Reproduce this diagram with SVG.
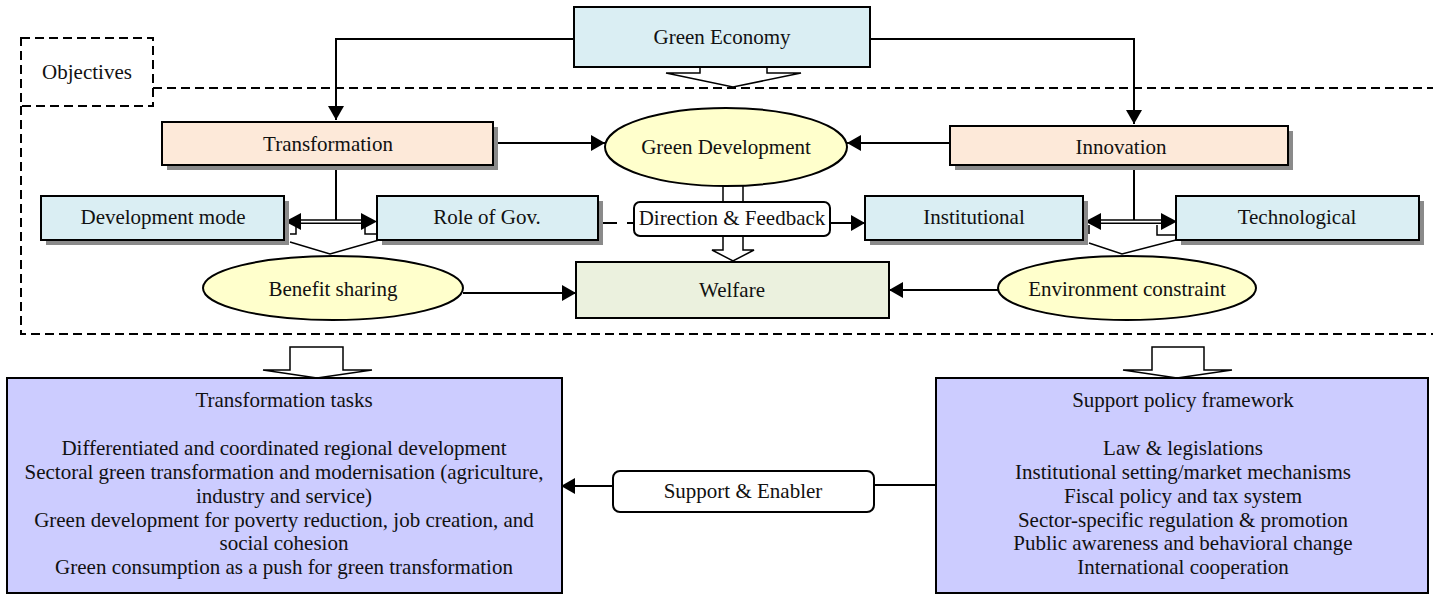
<svg xmlns="http://www.w3.org/2000/svg" width="1433" height="594" viewBox="0 0 1433 594">
<defs>
<style>
text{font-family:"Liberation Serif","Times New Roman",serif;font-size:21px;fill:#111;text-anchor:middle}
.box{stroke:#000;stroke-width:2}
.shadow{fill:#8a8a8a}
.blue{fill:#DAEEF3}
.peach{fill:#FDE9D9}
.ell{fill:#FFFFCC;stroke:#000;stroke-width:2}
.purple{fill:#CCCCFF}
.dash{fill:none;stroke:#000;stroke-width:2;stroke-dasharray:9,5}
.con{fill:none;stroke:#000;stroke-width:2}
.thin{fill:none;stroke:#000;stroke-width:1.5}
.blk{fill:#fff;stroke:#000;stroke-width:1.5}
</style>
<marker id="ah" markerUnits="userSpaceOnUse" markerWidth="16" markerHeight="16" refX="14" refY="8" orient="auto" viewBox="0 0 16 16">
<path d="M0,0 L14,8 L0,16 z" fill="#000"/>
</marker>
</defs>

<g id="frame">
<rect class="dash" x="21" y="38" width="132" height="68"/>
<text x="87" y="79">Objectives</text>
<path class="dash" d="M153,88 H1433"/>
<path class="dash" d="M21,106 V334 H1433"/>
</g>

<g id="connectors">
<path class="con" d="M574,39 H336 V120" marker-end="url(#ah)"/>
<path class="con" d="M870,39 H1134 V124" marker-end="url(#ah)"/>
<path class="con" d="M493,143 H605" marker-end="url(#ah)"/>
<path class="con" d="M950,143 H847" marker-end="url(#ah)"/>
<path class="con" d="M463,293 H576" marker-end="url(#ah)"/>
<path class="con" d="M998,290 H889" marker-end="url(#ah)"/>
<path class="con" d="M830,223 H865" marker-end="url(#ah)"/>
<path class="con" d="M598,223 H617 M627,223 H634"/>
<path class="con" d="M936,485 H874 M613,486 H561" marker-end="url(#ah)"/>
<path class="con" d="M336,165 V220"/>
<path class="thin" d="M299,220 H362 M299,223.3 H362"/>
<polygon points="285,221.6 301,213 301,230" fill="#000"/>
<polygon points="377,221.6 361,213 361,230" fill="#000"/>
<path class="thin" d="M296,225 V234 H290 M365,225 V234 H377"/>
<path class="thin" d="M290,242 L330,254 L379,240"/>
<path class="con" d="M1134,165 V220"/>
<path class="thin" d="M1099,220 H1162 M1099,223.3 H1162"/>
<polygon points="1085,221.6 1101,213 1101,230" fill="#000"/>
<polygon points="1177,221.6 1161,213 1161,230" fill="#000"/>
<path class="thin" d="M1089,225 V234 M1157,225 V235 H1177"/>
<path class="thin" d="M1089,243 L1122,254 L1176,240"/>
<path class="blk" d="M700,67 V73 H666 L733,87 L801,73 H767 V67"/>
<path class="blk" d="M723,186 V202 M743,186 V202"/>
<path class="blk" d="M723,237 V250 H712 L733,261 L754,250 H743 V237"/>
<path class="blk" d="M290,347 V370 H263 L317,378 L372,370 H343 V347 Z"/>
<path class="blk" d="M1152,347 V370 H1123 L1177,378 L1232,370 H1204 V347 Z"/>
</g>

<g id="green-economy">
<rect class="box blue" x="574" y="7" width="296" height="60"/>
<text x="722" y="44">Green Economy</text>
</g>

<g id="transformation">
<rect class="shadow" x="167" y="127" width="331" height="43"/>
<rect class="box peach" x="162" y="122" width="331" height="43"/>
<text x="328" y="151">Transformation</text>
</g>

<g id="innovation">
<rect class="shadow" x="955" y="131" width="338" height="39"/>
<rect class="box peach" x="950" y="126" width="338" height="39"/>
<text x="1121" y="154">Innovation</text>
</g>

<g id="green-development">
<ellipse class="ell" cx="726" cy="147" rx="121" ry="39"/>
<text x="726" y="154">Green Development</text>
</g>

<g id="development-mode">
<rect class="shadow" x="46" y="201" width="243" height="44"/>
<rect class="box blue" x="41" y="196" width="243" height="44"/>
<text x="163" y="224">Development mode</text>
</g>

<g id="role-of-gov">
<rect class="shadow" x="382" y="201" width="221" height="44"/>
<rect class="box blue" x="377" y="196" width="221" height="44"/>
<text x="487" y="224">Role of Gov.</text>
</g>

<g id="direction-feedback">
<rect class="box" fill="#fff" x="634" y="202" width="196" height="34" rx="6"/>
<text x="732" y="225">Direction &amp; Feedback</text>
</g>

<g id="institutional">
<rect class="shadow" x="870" y="201" width="218" height="44"/>
<rect class="box blue" x="865" y="196" width="218" height="44"/>
<text x="974" y="224">Institutional</text>
</g>

<g id="technological">
<rect class="shadow" x="1181" y="201" width="243" height="44"/>
<rect class="box blue" x="1176" y="196" width="243" height="44"/>
<text x="1297" y="224">Technological</text>
</g>

<g id="benefit-sharing">
<ellipse class="ell" cx="333" cy="288" rx="130" ry="32"/>
<text x="333" y="296">Benefit sharing</text>
</g>

<g id="welfare">
<rect class="box" fill="#EBF1DE" x="576" y="262" width="313" height="56"/>
<text x="732" y="297">Welfare</text>
</g>

<g id="environment-constraint">
<ellipse class="ell" cx="1127" cy="288" rx="129" ry="32"/>
<text x="1127" y="296">Environment constraint</text>
</g>

<g id="transformation-tasks">
<rect class="box purple" x="7" y="378" width="555" height="215"/>
<text x="284" y="407">Transformation tasks</text>
<text x="284" y="455">Differentiated and coordinated regional development</text>
<text x="284" y="479">Sectoral green transformation and modernisation (agriculture,</text>
<text x="284" y="503">industry and service)</text>
<text x="284" y="527">Green development for poverty reduction, job creation, and</text>
<text x="284" y="550">social cohesion</text>
<text x="284" y="574">Green consumption as a push for green transformation</text>
</g>

<g id="support-enabler">
<rect class="box" fill="#fff" x="613" y="471" width="261" height="41" rx="7"/>
<text x="743" y="498">Support &amp; Enabler</text>
</g>

<g id="support-policy">
<rect class="box purple" x="936" y="378" width="492" height="215"/>
<text x="1183" y="407">Support policy framework</text>
<text x="1183" y="455">Law &amp; legislations</text>
<text x="1183" y="479">Institutional setting/market mechanisms</text>
<text x="1183" y="503">Fiscal policy and tax system</text>
<text x="1183" y="527">Sector-specific regulation &amp; promotion</text>
<text x="1183" y="550">Public awareness and behavioral change</text>
<text x="1183" y="574">International cooperation</text>
</g>
</svg>
